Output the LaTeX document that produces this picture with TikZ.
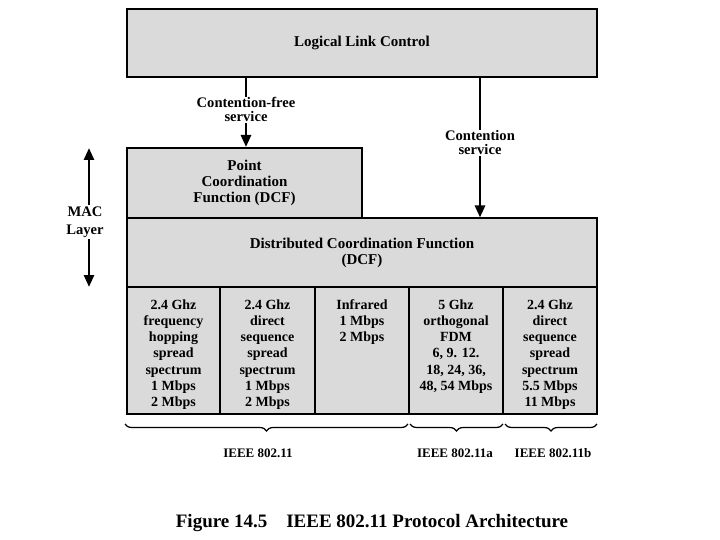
\documentclass[tikz,border=0pt]{standalone}
\usepackage{fontspec}
\setmainfont{Liberation Serif}
\usetikzlibrary{arrows.meta,decorations.pathreplacing}
\definecolor{boxgray}{HTML}{DADADA}
\tikzset{
  box/.style={draw=black, line width=2pt, fill=boxgray, inner sep=0pt, align=center,
    font=\fontsize{15}{16.3}\selectfont\bfseries},
  cell/.style={box, minimum height=127pt, font=\fontsize{14}{16.3}\selectfont\bfseries},
  arr/.style={line width=2.6pt, -{Triangle[width=10pt,length=12pt]}},
  dbl/.style={line width=2.6pt, {Triangle[width=10pt,length=12pt]}-{Triangle[width=10pt,length=12pt]}},
  lbl/.style={fill=white, inner sep=1pt, align=center, font=\fontsize{14.6}{14}\selectfont\bfseries},
  brc/.style={decorate, decoration={brace, mirror, amplitude=7pt}, line width=1.2pt},
  std/.style={font=\fontsize{13}{13}\selectfont\bfseries}
}
\newcommand{\celltext}[1]{\parbox[c][127pt][t]{90pt}{\centering\rule{0pt}{22pt}#1}}
\begin{document}
\begin{tikzpicture}[x=1pt,y=-1pt]
\useasboundingbox (0,0) rectangle (720,540);
\node[box, minimum width=470pt, minimum height=68pt] (llc) at (362,43) {Logical Link Control};
\node[box, minimum width=235pt, minimum height=70pt] (pcf) at (244.5,183) {Point\\Coordination\\Function (DCF)};
\node[box, minimum width=470pt, minimum height=69pt] (dcf) at (362,253) {Distributed Coordination Function\\(DCF)};
\node[cell, minimum width=93pt] (c1) at (173.5,350.5) {\celltext{2.4 Ghz\\frequency\\hopping\\spread\\spectrum\\1 Mbps\\2 Mbps}};
\node[cell, minimum width=95pt] (c2) at (267.5,350.5) {\celltext{2.4 Ghz\\direct\\sequence\\spread\\spectrum\\1 Mbps\\2 Mbps}};
\node[cell, minimum width=94pt] (c3) at (362,350.5) {\celltext{Infrared\\1 Mbps\\2 Mbps}};
\node[cell, minimum width=94pt] (c4) at (456,350.5) {\celltext{5 Ghz\\orthogonal\\FDM\\6, 9. 12.\\18, 24, 36,\\48, 54 Mbps}};
\node[cell, minimum width=94pt] (c5) at (550,350.5) {\celltext{2.4 Ghz\\direct\\sequence\\spread\\spectrum\\5.5 Mbps\\11 Mbps}};
% arrows from LLC
\coordinate (cf) at (246,0);
\coordinate (cs) at (480,0);
\draw[arr] (llc.south -| cf) -- node[lbl, pos=0.46] (lcf) {Contention-free\\service} (pcf.north -| cf);
\draw[arr] (llc.south -| cs) -- node[lbl, pos=0.465] (lcs) {Contention\\service} (dcf.north -| cs);
% MAC layer
\coordinate (mt) at (89,148);
\coordinate (mb) at (89,287);
\draw[dbl] (mt) -- (mb);
\node[lbl, font=\fontsize{14.6}{18}\selectfont\bfseries, inner sep=2pt] (mac) at (85,222) {MAC\\Layer};
% braces
\coordinate (b1s) at (125,424);
\coordinate (b1e) at (408,424);
\coordinate (b2s) at (410,424);
\coordinate (b2e) at (503,424);
\coordinate (b3s) at (505,424);
\coordinate (b3e) at (597,424);
\draw[brc] (b1s) -- (b1e);
\draw[brc] (b2s) -- (b2e);
\draw[brc] (b3s) -- (b3e);
\node[std] (l1) at (258,453) {IEEE 802.11};
\node[std] (l2) at (455,453) {IEEE 802.11a};
\node[std] (l3) at (553,453) {IEEE 802.11b};
\node[font=\fontsize{19}{19}\selectfont\bfseries] (cap) at (372,523) {Figure 14.5\hspace{1em}IEEE 802.11 Protocol Architecture};
\end{tikzpicture}
\end{document}
